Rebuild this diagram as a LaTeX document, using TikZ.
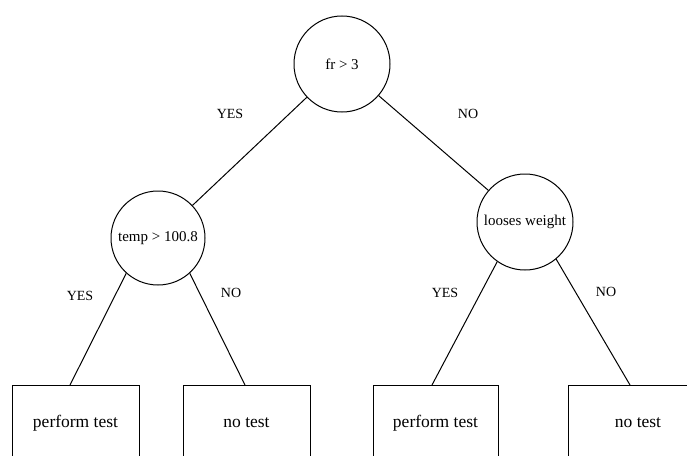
\documentclass[tikz,border=0pt]{standalone}
\usepackage{fontspec}
\setmainfont{Liberation Serif}
\begin{document}
\begin{tikzpicture}[x=1pt,y=-1pt,line width=1pt,
  test/.style={draw,circle,minimum size=96pt,inner sep=0pt,font=\fontsize{15}{17}\selectfont},
  leaf/.style={draw,rectangle,minimum height=76pt,inner sep=0pt,font=\fontsize{17.5}{20}\selectfont},
  lab/.style={font=\fontsize{14}{16}\selectfont,inner sep=0pt}]
\useasboundingbox (0,0) rectangle (687,455);
\clip (0,0) rectangle (687,455);
\node[test] (R) at (342,64) {fr > 3};
\node[test,minimum size=94pt] (L) at (158,238) {temp > 100.8};
\node[test] (Q) at (525,222) {looses weight};
\node[leaf,minimum width=127pt] (b1) at (75.5,423) {perform test};
\node[leaf,minimum width=127pt] (b2) at (246.5,423) {no test};
\node[leaf,minimum width=125pt] (b3) at (435.5,423) {perform test};
\node[leaf,minimum width=140pt] (b4) at (638,423) {no test};
\coordinate (t1) at (70,385);
\coordinate (t2) at (245,385);
\coordinate (t3) at (432,385);
\coordinate (t4) at (630,385);
\draw (R) -- (L);
\draw (R) -- (Q);
\draw (L.-132) -- (t1);
\draw (L.-48) -- (t2);
\draw (Q.-125) -- (t3);
\draw (Q.-50) -- (t4);
\node[lab] (y1) at (230,114) {YES};
\node[lab] (n1) at (468,114) {NO};
\node[lab] (y2) at (80,296) {YES};
\node[lab] (n2) at (231,293) {NO};
\node[lab] (y3) at (445,293) {YES};
\node[lab] (n3) at (606,292) {NO};
\end{tikzpicture}
\end{document}
